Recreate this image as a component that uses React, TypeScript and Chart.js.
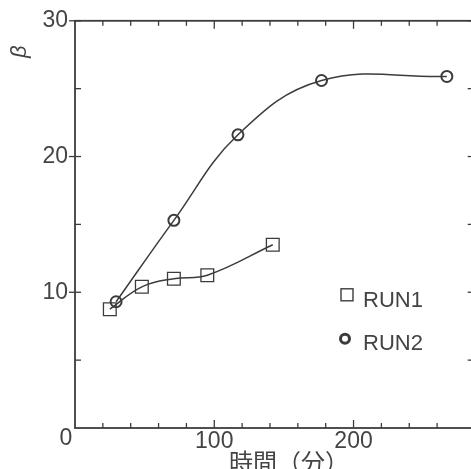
import React, { useEffect, useRef } from 'react';
import { Chart, registerables } from 'chart.js';
Chart.register(...registerables);

const run1X = [25, 48, 71, 95, 142];
const run1Y = [8.75, 10.4, 11.0, 11.25, 13.5];
const run2X = [29.5, 71, 117, 177, 267];
const run2Y = [9.3, 15.3, 21.6, 25.6, 25.9];
const seriesNames = ['RUN1', 'RUN2'];
const xTitle = '時間（分）';
const yTitle = 'β';
const xRange = [0, 287];
const xTickStep = 20;
const xLabelStep = 100;
const yRange = [0, 30];
const yTickStep = 5;
const yLabelStep = 10;
const originLabel = '0';

const INK = '#3c3c3c';
const FONT = "'Liberation Sans', Arial, sans-serif";

const framePlugin = {
  id: 'frame',
  afterDraw(chart: any) {
    const { ctx, chartArea: a, scales } = chart;
    const x = scales.x;
    const y = scales.y;
    ctx.save();
    const line = (x1: number, y1: number, x2: number, y2: number) => {
      ctx.beginPath();
      ctx.moveTo(x1, y1);
      ctx.lineTo(x2, y2);
      ctx.stroke();
    };
    ctx.strokeStyle = INK;
    ctx.lineWidth = 1.8;
    ctx.strokeRect(a.left, a.top, a.right - a.left, a.bottom - a.top);
    ctx.lineWidth = 1.3;
    x.ticks.forEach((t: any) => {
      if (t.value === xRange[0] || t.value % xTickStep !== 0) return;
      const px = x.getPixelForValue(t.value);
      const major = t.value % xLabelStep === 0;
      const len = major ? 8 : 5;
      line(px, a.bottom, px, a.bottom - len);
      line(px, a.top, px, a.top + len);
    });
    y.ticks.forEach((t: any) => {
      if (t.value === yRange[0]) return;
      const py = y.getPixelForValue(t.value);
      const major = t.value % yLabelStep === 0;
      line(a.left - (major ? 6 : 0), py, a.left + 6, py);
      line(a.right - 7, py, a.right, py);
    });

    // legend
    ctx.fillStyle = '#444';
    ctx.font = `22px ${FONT}`;
    ctx.textBaseline = 'middle';
    ctx.textAlign = 'left';
    const lx = a.left + 272;
    const ly1 = a.top + 274;
    const ly2 = a.top + 318;
    ctx.lineWidth = 1.4;
    ctx.strokeStyle = INK;
    ctx.strokeRect(lx - 6, ly1 - 6, 12, 12);
    ctx.fillText(seriesNames[0], lx + 16, ly1 + 6);
    ctx.lineWidth = 3;
    ctx.beginPath();
    ctx.arc(lx - 2, ly2, 4.5, 0, Math.PI * 2);
    ctx.stroke();
    ctx.fillText(seriesNames[1], lx + 16, ly2 + 5);

    // origin label
    ctx.font = `23px ${FONT}`;
    ctx.textAlign = 'center';
    ctx.fillText(originLabel, x.getPixelForValue(xRange[0]) - 9, y.getPixelForValue(yRange[0]) + 11);

    // x title
    ctx.font = `24px 'Noto Sans CJK JP', sans-serif`;
    ctx.fillText(xTitle, a.left + 214, a.bottom + 34);

    // y title
    ctx.save();
    ctx.translate(20, a.top + 31);
    ctx.rotate(-Math.PI / 2);
    ctx.font = `italic 22px ${FONT}`;
    ctx.textAlign = 'center';
    ctx.fillText(yTitle, 0, 0);
    ctx.restore();
    ctx.restore();
  },
};

export default function App() {
  const ref = useRef<HTMLCanvasElement>(null);
  useEffect(() => {
    if (!ref.current) return;
    const toPts = (xs: number[], ys: number[]) => xs.map((v, i) => ({ x: v, y: ys[i] }));
    const chart = new Chart(ref.current, {
      type: 'line',
      data: {
        datasets: [
          {
            label: seriesNames[0],
            data: toPts(run1X, run1Y),
            borderColor: INK,
            borderWidth: 1.5,
            tension: 0.4,
            pointStyle: 'rect',
            pointRadius: 9,
            pointBorderWidth: 1.3,
            pointBorderColor: INK,
            pointBackgroundColor: 'rgba(0,0,0,0)',
          },
          {
            label: seriesNames[1],
            data: toPts(run2X, run2Y),
            borderColor: INK,
            borderWidth: 1.5,
            tension: 0.4,
            pointStyle: 'circle',
            pointRadius: 5.5,
            pointBorderWidth: 2,
            pointBorderColor: INK,
            pointBackgroundColor: 'rgba(0,0,0,0)',
          },
        ],
      },
      options: {
        animation: false,
        responsive: false,
        devicePixelRatio: 1,
        layout: { padding: { top: 20, right: 4, left: 0, bottom: 0 } },
        plugins: { legend: { display: false }, tooltip: { enabled: false } },
        scales: {
          x: {
            type: 'linear',
            min: xRange[0],
            max: xRange[1],
            grid: { display: false, drawTicks: false },
            border: { display: false },
            afterFit: (s: any) => { s.height = 52; },
            ticks: {
              stepSize: xTickStep,
              autoSkip: false,
              maxRotation: 0,
              padding: 0,
              color: '#444',
              font: { family: FONT, size: 23 },
              callback: (v: any) => (v % xLabelStep === 0 && v !== 0 ? String(v) : ''),
            },
          },
          y: {
            type: 'linear',
            min: yRange[0],
            max: yRange[1],
            grid: { display: false, drawTicks: false },
            border: { display: false },
            afterFit: (s: any) => { s.width = 75; },
            ticks: {
              stepSize: yTickStep,
              autoSkip: false,
              padding: 7,
              color: '#444',
              font: { family: FONT, size: 23 },
              callback: (v: any) => (v % yLabelStep === 0 && v !== 0 ? String(v) : ''),
            },
          },
        },
      },
      plugins: [framePlugin],
    } as any);
    return () => chart.destroy();
  }, []);
  return (
    <div style={{ position: 'fixed', left: 0, top: 0, width: 471, height: 469, overflow: 'hidden', background: '#fff' }}>
      <canvas ref={ref} width={485} height={480} style={{ display: 'block' }} />
    </div>
  );
}
